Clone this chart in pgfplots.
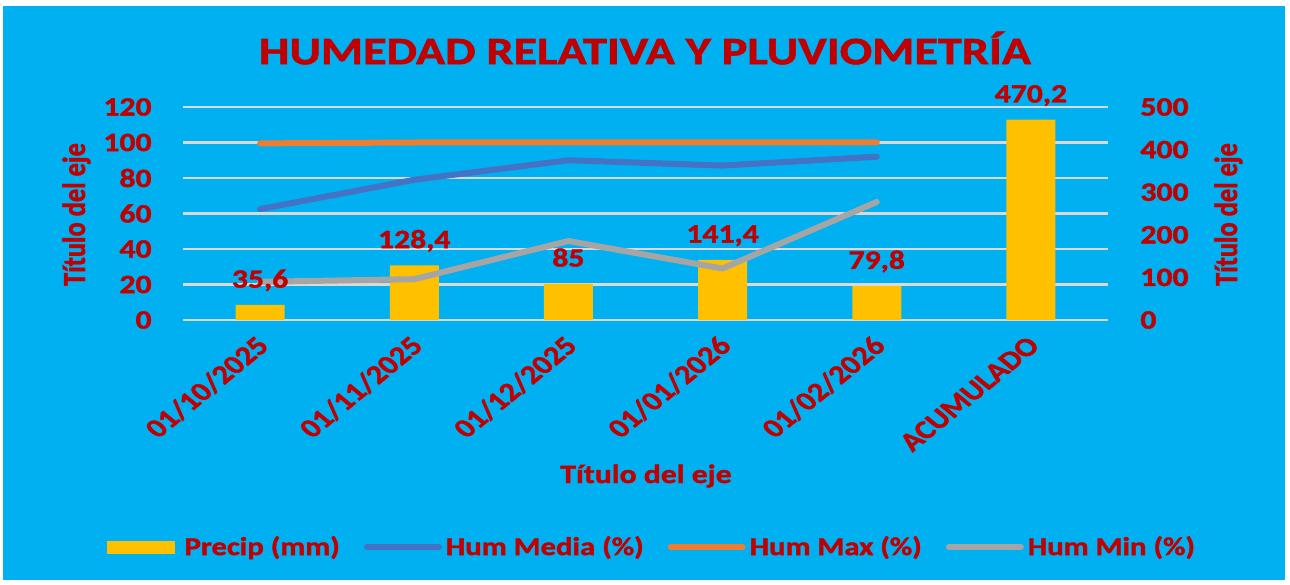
\documentclass[border=0pt]{standalone}
\usepackage{pgfplots}
\usepackage{pgfplotstable}
\pgfplotsset{compat=1.18}
\usepackage{fontspec}
\setmainfont{Carlito}[FakeStretch=1.2, BoldFeatures={FakeBold=1.5}]
\newfontfamily\rotfont{Carlito}[BoldFeatures={FakeBold=1.5}]
\definecolor{bg}{HTML}{00B0F0}
\definecolor{dred}{HTML}{C00000}
\definecolor{cbar}{HTML}{FFC000}
\definecolor{cmed}{HTML}{4472C4}
\definecolor{cmax}{HTML}{ED7D31}
\definecolor{cmin}{HTML}{A5A5A5}
\definecolor{cgrid}{HTML}{D9D9D9}

\pgfplotstableread{
x prec
0 35.6
1 128.4
2 85
3 141.4
4 79.8
5 470.2
}\precip
\pgfplotstableread{
x med max min
0 62.5 99.5 21.5
1 79 100 23
2 90 100 44.5
3 87 100 29
4 92 100 66.5
}\hum

\newcommand{\lblfont}{\bfseries\fontsize{13.2}{15}\selectfont}
\newcommand{\legfont}{\bfseries\fontsize{12.8}{15}\selectfont}
\newcommand{\rotlblfont}{\rotfont\bfseries\fontsize{13.2}{15}\selectfont}

\begin{document}
\begin{tikzpicture}[x=1pt,y=1pt]
\useasboundingbox (0,0) rectangle (645,292);
\fill[white] (0,0) rectangle (645,292);
\fill[bg] (1.5,2) rectangle (642.5,289);
\pgfplotsset{
  base/.style={scale only axis, width=462.5pt, height=106.5pt,
    at={(91.5pt,132pt)}, anchor=south west,
    xmin=-0.5, xmax=5.5,
    axis line style={draw=none}, major tick length=0pt,
    /pgf/number format/assume math mode=true,
    /pgf/number format/use comma,
    /pgf/number format/1000 sep={},
  }
}
% axis 1: grid, left ticks, x ticks
\begin{axis}[base,
  ymin=0, ymax=120, ytick={0,20,...,120},
  ymajorgrids, grid style={cgrid, line width=1.2pt},
  xtick={0,1,2,3,4,5},
  xticklabels={01/10/2025,01/11/2025,01/12/2025,01/01/2026,01/02/2026,ACUMULADO},
  yticklabel style={font=\lblfont, text=dred, anchor=east, inner sep=0pt, xshift=-15.5pt},
  xticklabel style={font=\rotlblfont, text=dred, inner sep=0pt, yshift=-10.5pt, xshift=1.5pt, xscale=1.22, rotate=45, anchor=east},
]
\addplot[draw=none] coordinates {(0,0)};
\end{axis}
% axis 2: bars, right scale
\begin{axis}[base,
  ymin=0, ymax=500, ytick={0,100,...,500},
  yticklabel pos=right, xtick=\empty,
  yticklabel style={font=\lblfont, text=dred, anchor=west, inner sep=0pt, xshift=16pt},
]
\addplot[ybar, bar width=24.5pt, fill=cbar, draw=none] table[x=x, y=prec] {\precip};
\end{axis}
% axis 3: lines
\begin{axis}[base, hide axis,
  ymin=0, ymax=120,
  legend columns=4,
  legend style={draw=none, fill=none, at={(0.508,-1.066)}, anchor=center,
    font=\legfont, text=dred,
    /tikz/every even column/.append style={column sep=10pt}},
]
\addlegendimage{legend image code/.code={\fill[cbar] (0pt,-3pt) rectangle (33.5pt,3pt); \path (36.5pt,0pt);}}
\addlegendentry{Precip (mm)}
\addplot[cmed, line width=3pt, line cap=round, line join=round,
  legend image code/.code={\draw (0pt,0pt) -- (36pt,0pt);}] table[x=x, y=med] {\hum};
\addlegendentry{Hum Media (\%)}
\addplot[cmax, line width=3pt, line cap=round, line join=round,
  legend image code/.code={\draw (0pt,0pt) -- (36pt,0pt);}] table[x=x, y=max] {\hum};
\addlegendentry{Hum Max (\%)}
\addplot[cmin, line width=3pt, line cap=round, line join=round,
  legend image code/.code={\draw (0pt,0pt) -- (36pt,0pt);}] table[x=x, y=min] {\hum};
\addlegendentry{Hum Min (\%)}
\end{axis}
% axis 4: bar value labels on top
\begin{axis}[base, hide axis,
  ymin=0, ymax=500,
  nodes near coords,
  every node near coord/.append style={font=\lblfont, text=dred, anchor=base, inner sep=0pt, yshift=8.6pt},
]
\addplot[only marks, mark=none, draw=none] table[x=x, y=prec] {\precip};
\end{axis}
\node[anchor=base, text=dred, font=\bfseries\fontsize{19.4}{22}\selectfont, xscale=1.036] at (322.5,259.9) {HUMEDAD RELATIVA Y PLUVIOMETRÍA};
\node[anchor=base, text=dred, font=\lblfont] at (323,50.5) {Título del eje};
\node[anchor=base, text=dred, font=\rotlblfont, xscale=1.22, rotate=90] at (42.5,184.75) {Título del eje};
\node[anchor=base, text=dred, font=\rotlblfont, xscale=1.22, rotate=90] at (618.5,184.75) {Título del eje};
\end{tikzpicture}
\end{document}
